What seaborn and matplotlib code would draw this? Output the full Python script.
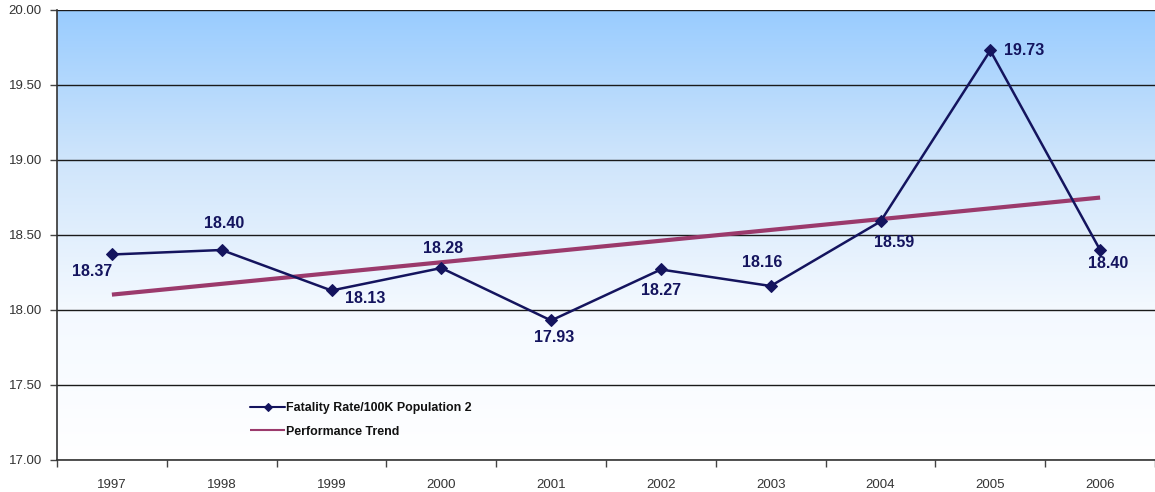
import numpy as np
import pandas as pd
import matplotlib
matplotlib.use("Agg")
import matplotlib.pyplot as plt
import seaborn as sns
from matplotlib.colors import LinearSegmentedColormap

years = ["1997", "1998", "1999", "2000", "2001", "2002", "2003", "2004", "2005", "2006"]
fatality_rate = [18.37, 18.40, 18.13, 18.28, 17.93, 18.27, 18.16, 18.59, 19.73, 18.40]
y_ticks = [17.00, 17.50, 18.00, 18.50, 19.00, 19.50, 20.00]
series_name = "Fatality Rate/100K Population 2"
trend_name = "Performance Trend"

# label offsets (points) for the value annotations
label_offsets = [(-14, -12), (2, 19), (24, -6), (1, 14), (2, -12), (0, -15),
                 (-6, 17), (10, -15), (24, 0), (6, -10)]

df = pd.DataFrame({"pos": np.arange(len(years)), "rate": fatality_rate})

sns.set_theme(style="white")
plt.rcParams["font.family"] = ["Liberation Sans", "DejaVu Sans"]

fig = plt.figure(figsize=(11.55, 4.92), dpi=100)
ax = fig.add_axes([57 / 1155, 32 / 492, 1098 / 1155, 450 / 492])

# gradient background
cmap = LinearSegmentedColormap.from_list("bg", ["#FFFFFF", "#F4F9FF", "#CFE5FB", "#99CCFF"], N=256)
grad = np.linspace(0, 1, 256).reshape(-1, 1)
ax.imshow(grad, extent=[-0.5, 9.5, 17.0, 20.0], origin="lower", aspect="auto",
          cmap=cmap, zorder=0, interpolation="bicubic")

# gridlines
for yv in y_ticks:
    ax.axhline(yv, color="#1a1a1a", lw=1.0, zorder=1)

# trend line (least squares fit through the data)
sns.regplot(data=df, x="pos", y="rate", ax=ax, scatter=False, ci=None, truncate=True,
            line_kws=dict(color="#9B3A6C", lw=3, zorder=2, solid_capstyle="butt"),
            label=trend_name)

# data line
sns.lineplot(data=df, x="pos", y="rate", ax=ax, color="#14145E", lw=1.8,
             marker="D", markersize=6, markeredgecolor="#14145E", zorder=3,
             label=series_name)

for i, (v, off) in enumerate(zip(fatality_rate, label_offsets)):
    ax.annotate(f"{v:.2f}", (i, v), xytext=off, textcoords="offset points",
                ha="center", va="center", fontsize=11.5, fontweight="bold",
                color="#14145E", zorder=4)

ax.set_xlim(-0.5, 9.5)
ax.set_ylim(17.0, 20.0)
ax.set_yticks(y_ticks)
ax.set_yticklabels([f"{t:.2f}" for t in y_ticks])
ax.set_xticks(np.arange(-0.5, 10, 1.0))
ax.set_xticklabels([])
ax.set_xticks(np.arange(len(years)), minor=True)
ax.set_xticklabels(years, minor=True)
ax.tick_params(axis="x", which="major", direction="out", length=5, width=1, color="#444444", bottom=True)
ax.tick_params(axis="x", which="minor", length=0, pad=14, labelsize=9.5, labelcolor="#333333")
ax.tick_params(axis="y", direction="out", length=5, width=1, color="#444444", left=True,
               labelsize=9.5, labelcolor="#333333", pad=6)
ax.set_xlabel("")
ax.set_ylabel("")

for side in ["top", "right"]:
    ax.spines[side].set_visible(False)
for side in ["left", "bottom"]:
    ax.spines[side].set_color("#333333")
    ax.spines[side].set_linewidth(1.2)

handles, labels = ax.get_legend_handles_labels()
order = [labels.index(series_name), labels.index(trend_name)]
leg = ax.legend([handles[i] for i in order], [labels[i] for i in order],
                loc="center left", bbox_to_anchor=(0.176, 0.089), frameon=False,
                borderpad=0, borderaxespad=0,
                prop=dict(size=8.9, weight="bold"), handlelength=2.8, handletextpad=0.1,
                labelspacing=0.95, markerscale=0.7)
for h in leg.get_lines():
    h.set_linewidth(1.5)
for t in leg.get_texts():
    t.set_color("#111111")

fig.savefig("out.png", dpi=100, facecolor="white")
